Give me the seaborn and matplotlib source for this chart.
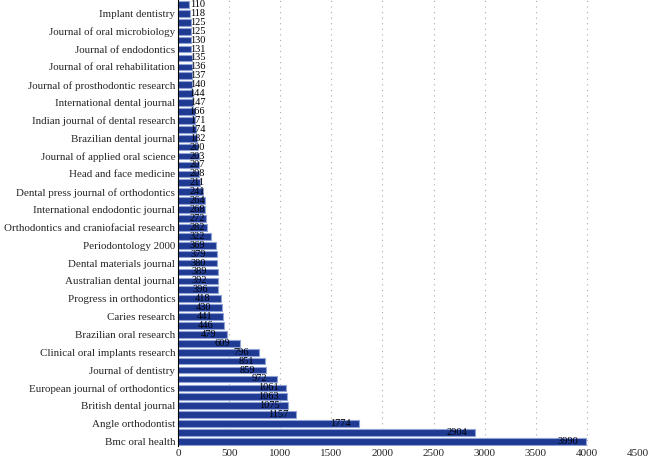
import matplotlib
matplotlib.use('Agg')
import matplotlib.pyplot as plt
import seaborn as sns
import pandas as pd

# counts per journal, top bar first (smallest) down to the largest
counts = [110, 118, 125, 125, 130, 131, 135, 136, 137, 140,
          144, 147, 166, 171, 174, 182, 200, 203, 207, 208,
          211, 241, 264, 268, 272, 282, 322, 369, 379, 380,
          389, 392, 396, 418, 430, 441, 446, 479, 609, 796,
          851, 859, 972, 1061, 1063, 1075, 1157, 1774, 2904, 3990]

# only every second journal name is visible on the axis
journals = ["", "Implant dentistry", "", "Journal of oral microbiology",
            "", "Journal of endodontics", "", "Journal of oral rehabilitation",
            "", "Journal of prosthodontic research", "", "International dental journal",
            "", "Indian journal of dental research", "", "Brazilian dental journal",
            "", "Journal of applied oral science", "", "Head and face medicine",
            "", "Dental press journal of orthodontics", "", "International endodontic journal",
            "", "Orthodontics and craniofacial research", "", "Periodontology 2000",
            "", "Dental materials journal", "", "Australian dental journal",
            "", "Progress in orthodontics", "", "Caries research",
            "", "Brazilian oral research", "", "Clinical oral implants research",
            "", "Journal of dentistry", "", "European journal of orthodontics",
            "", "British dental journal", "", "Angle orthodontist",
            "", "Bmc oral health"]

xticks = [0, 500, 1000, 1500, 2000, 2500, 3000, 3500, 4000, 4500]

df = pd.DataFrame({"rank": [str(i) for i in range(len(counts))], "count": counts})

sns.set_style("white")
plt.rcParams['font.family'] = ['Liberation Serif', 'DejaVu Serif']

fig = plt.figure(figsize=(6.53, 4.62), dpi=100)
ax = fig.add_axes([0.2726, 0.035, 0.7044, 0.965])

sns.barplot(data=df, x="count", y="rank", orient="h", color="#1f3a93",
            width=0.74, edgecolor="#8fa2d6", linewidth=0.8, saturation=1, ax=ax)

for i, v in enumerate(counts):
    ax.text(max(v - 180, 190), i, str(v), ha='center', va='center',
            fontsize=7.5, color='black')

ax.set_xlim(0, 4500)
ax.set_ylim(len(counts) - 0.5, -0.5)
ax.set_xticks(xticks)
ax.set_xticklabels([str(t) for t in xticks], fontsize=8)
ax.set_yticks(range(len(counts)))
ax.set_yticklabels(journals, fontsize=7.9)
ax.tick_params(axis='both', length=0, pad=2)
ax.set_xlabel("")
ax.set_ylabel("")

ax.xaxis.grid(True, linestyle=(0, (1, 4)), color='#aaaaaa', linewidth=0.8)
ax.set_axisbelow(True)
for s in ['top', 'right', 'bottom']:
    ax.spines[s].set_visible(False)
ax.spines['left'].set_color('black')
ax.spines['left'].set_linewidth(0.8)

plt.savefig("out.png", dpi=100)
plt.close()
